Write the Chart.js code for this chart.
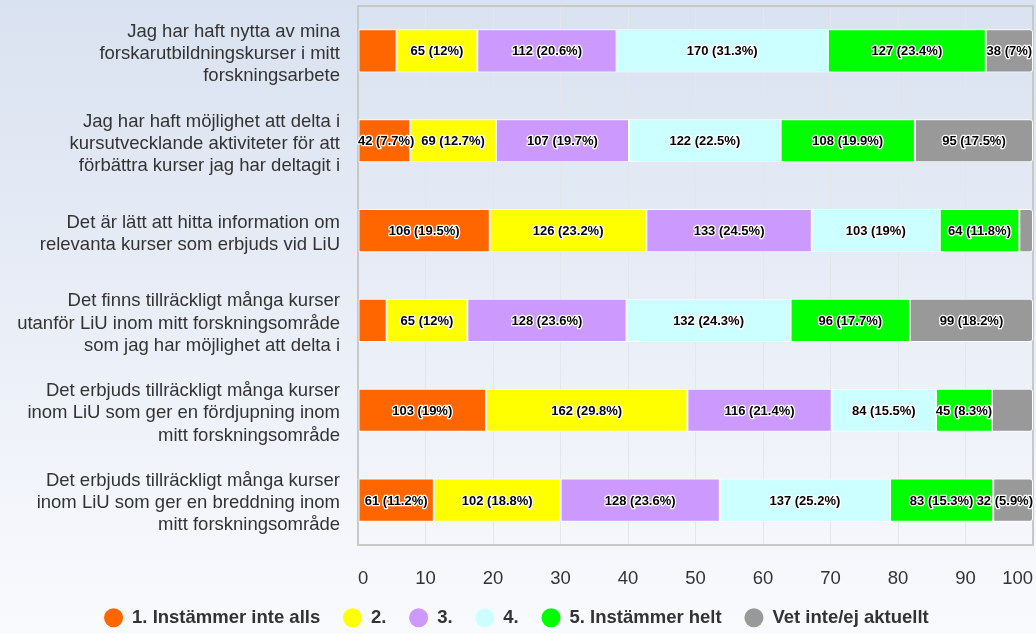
<!DOCTYPE html>
<html lang="sv">
<head>
<meta charset="utf-8">
<title>Forskarutbildningskurser</title>
<script src="https://cdn.jsdelivr.net/npm/chart.js@4.4.1/dist/chart.umd.min.js"></script>
<style>
    html, body { margin: 0; padding: 0; }
    #wrap { width: 1036px; height: 634px; position: relative; }
</style>
</head>
<body>
<div id="wrap"><canvas id="surveyChart"></canvas></div>
<script>
// Questions (y-axis categories), one array of lines per question
const questions = [
    ['Jag har haft nytta av mina', 'forskarutbildningskurser i mitt', 'forskningsarbete'],
    ['Jag har haft möjlighet att delta i', 'kursutvecklande aktiviteter för att', 'förbättra kurser jag har deltagit i'],
    ['Det är lätt att hitta information om', 'relevanta kurser som erbjuds vid LiU'],
    ['Det finns tillräckligt många kurser', 'utanför LiU inom mitt forskningsområde', 'som jag har möjlighet att delta i'],
    ['Det erbjuds tillräckligt många kurser', 'inom LiU som ger en fördjupning inom', 'mitt forskningsområde'],
    ['Det erbjuds tillräckligt många kurser', 'inom LiU som ger en breddning inom', 'mitt forskningsområde']
];

// Answer options (series)
const answers = ['1. Instämmer inte alls', '2.', '3.', '4.', '5. Instämmer helt', 'Vet inte/ej aktuellt'];
const answerColors = ['#ff6600', '#ffff00', '#cc99ff', '#ccffff', '#00ff00', '#999999'];

// Number of answers per option, one value per question
const countsOpt1 = [31, 42, 106, 23, 103, 61];
const countsOpt2 = [65, 69, 126, 65, 162, 102];
const countsOpt3 = [112, 107, 133, 128, 116, 128];
const countsOpt4 = [170, 122, 103, 132, 84, 137];
const countsOpt5 = [127, 108, 64, 96, 45, 83];
const countsDontKnow = [38, 95, 11, 99, 33, 32];

const xTicks = [0, 10, 20, 30, 40, 50, 60, 70, 80, 90, 100];

const allCounts = [countsOpt1, countsOpt2, countsOpt3, countsOpt4, countsOpt5, countsDontKnow];
const rowTotals = questions.map((q, r) => allCounts.reduce((s, c) => s + c[r], 0));

Chart.defaults.font.family = '"Liberation Sans", Arial, sans-serif';
Chart.defaults.color = '#333333';

// Background gradient and plot border
const backdrop = {
    id: 'backdrop',
    beforeDraw(chart) {
        const ctx = chart.ctx;
        const g = ctx.createLinearGradient(0, 0, 0, chart.height);
        g.addColorStop(0, '#d9e2f0');
        g.addColorStop(1, '#f9fafd');
        ctx.save();
        ctx.fillStyle = g;
        ctx.fillRect(0, 0, chart.width, chart.height);
        ctx.restore();
    },
    beforeDatasetsDraw(chart) {
        const a = chart.chartArea;
        const ctx = chart.ctx;
        ctx.save();
        ctx.strokeStyle = '#c8c8c8';
        ctx.lineWidth = 2;
        ctx.strokeRect(a.left, a.top, a.right - a.left, a.bottom - a.top);
        ctx.restore();
    }
};

// Value labels "n (p%)" inside the segments, hiding ones that collide
const segmentLabels = {
    id: 'segmentLabels',
    afterDatasetsDraw(chart) {
        const ctx = chart.ctx;
        const area = chart.chartArea;
        ctx.save();
        ctx.font = 'bold 13px "Liberation Sans", Arial, sans-serif';
        ctx.textAlign = 'center';
        ctx.textBaseline = 'middle';
        ctx.lineJoin = 'round';

        questions.forEach((q, r) => {
            const items = [];
            chart.data.datasets.forEach((ds, i) => {
                const bar = chart.getDatasetMeta(i).data[r];
                const n = allCounts[i][r];
                const pct = Math.round(n / rowTotals[r] * 1000) / 10;
                const text = n + ' (' + pct + '%)';
                const w = ctx.measureText(text).width;
                let cx = (bar.x + bar.base) / 2;
                cx = Math.max(area.left + w / 2, Math.min(area.right - w / 2, cx));
                items.push({ text, cx, y: bar.y, w, n });
            });

            const placed = [];
            items.slice().sort((a, b) => b.n - a.n).forEach(it => {
                const l = it.cx - it.w / 2 + 1;
                const rr = it.cx + it.w / 2 - 1;
                if (placed.some(p => l < p.r && rr > p.l)) return;
                placed.push({ l, r: rr });
                it.show = true;
            });

            items.forEach(it => {
                if (!it.show) return;
                ctx.strokeStyle = '#ffffff';
                ctx.lineWidth = 2.5;
                ctx.strokeText(it.text, it.cx, it.y + 1);
                ctx.fillStyle = '#000000';
                ctx.fillText(it.text, it.cx, it.y + 1);
            });
        });
        ctx.restore();
    }
};

const datasets = answers.map((name, i) => ({
    label: name,
    data: allCounts[i].map((n, r) => n / rowTotals[r] * 100),
    backgroundColor: answerColors[i],
    borderColor: '#ffffff',
    borderWidth: 1,
    borderSkipped: false,
    borderRadius: i === answers.length - 1 ? { topRight: 3, bottomRight: 3 } : 0,
    categoryPercentage: 1,
    barPercentage: 0.48
}));

new Chart(document.getElementById('surveyChart'), {
    type: 'bar',
    data: {
        labels: questions,
        datasets: datasets
    },
    options: {
        indexAxis: 'y',
        responsive: true,
        maintainAspectRatio: false,
        animation: false,
        layout: {
            padding: { top: 6, right: 3, bottom: -3, left: 0 }
        },
        plugins: {
            legend: {
                position: 'bottom',
                labels: {
                    usePointStyle: true,
                    pointStyle: 'circle',
                    boxHeight: 13.5,
                    padding: 23,
                    color: '#333333',
                    font: { size: 18.5, weight: 'bold' },
                    generateLabels(chart) {
                        return Chart.defaults.plugins.legend.labels.generateLabels(chart).map(l => {
                            l.strokeStyle = l.fillStyle;
                            l.lineWidth = 0;
                            return l;
                        });
                    }
                }
            },
            tooltip: { enabled: false }
        },
        scales: {
            x: {
                stacked: true,
                min: xTicks[0],
                max: xTicks[xTicks.length - 1],
                afterBuildTicks(scale) {
                    scale.ticks = xTicks.map(v => ({ value: v }));
                },
                afterFit(scale) {
                    scale.height = 40.5;
                    scale.paddingLeft = 0;
                    scale.paddingRight = 0;
                },
                border: { display: false },
                grid: {
                    color: '#e3e6eb',
                    drawTicks: false
                },
                ticks: {
                    padding: 23,
                    align: 'inner',
                    color: '#333333',
                    font: { size: 18.5 }
                }
            },
            y: {
                stacked: true,
                afterFit(scale) {
                    scale.width = 358;
                    scale.paddingTop = 0;
                    scale.paddingBottom = 0;
                },
                border: { display: false },
                grid: { display: false, drawTicks: false },
                ticks: {
                    padding: 18,
                    labelOffset: 3,
                    color: '#333333',
                    font: { size: 18.5, lineHeight: 1.2 }
                }
            }
        }
    },
    plugins: [backdrop, segmentLabels]
});
</script>
</body>
</html>
